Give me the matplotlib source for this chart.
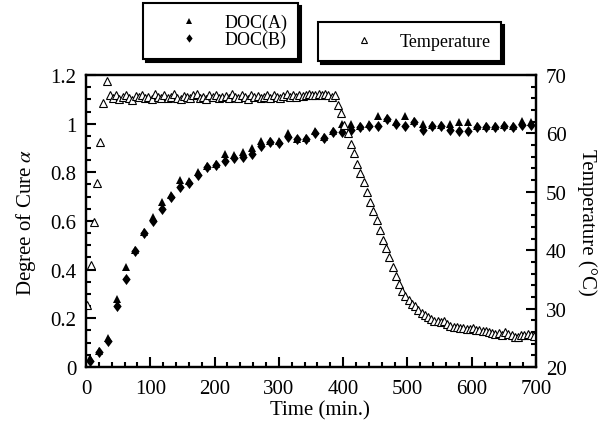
import numpy as np
import matplotlib
matplotlib.use('Agg')
import matplotlib.pyplot as plt
from matplotlib.ticker import MultipleLocator

plt.rcParams['font.family'] = ['Liberation Serif', 'DejaVu Serif']
plt.rcParams['mathtext.fontset'] = 'stix'

# degree of cure, sampled every ~14 min
doc_time = [6, 20, 34, 48, 62, 76, 90, 104, 118, 132, 146, 160, 174, 188, 202, 216, 230,
            244, 258, 272, 286, 300, 314, 328, 342, 356, 370, 384, 398, 412, 426, 440,
            454, 468, 482, 496, 510, 524, 538, 552, 566, 580, 594, 608, 622, 636, 650,
            664, 678, 692]
doc_a = [0.035, 0.065, 0.12, 0.28, 0.41, 0.48, 0.555, 0.615, 0.68, 0.705, 0.77, 0.765,
         0.80, 0.825, 0.835, 0.875, 0.87, 0.885, 0.90, 0.93, 0.93, 0.93, 0.96, 0.935,
         0.94, 0.97, 0.945, 0.97, 1.0, 1.0, 0.99, 1.0, 1.03, 1.025, 1.005, 1.03, 1.01,
         1.0, 0.995, 0.995, 1.0, 1.005, 1.005, 0.99, 0.99, 0.99, 0.995, 0.99, 1.01, 1.005]
doc_b = [0.025, 0.06, 0.105, 0.25, 0.36, 0.475, 0.55, 0.60, 0.65, 0.70, 0.74, 0.755,
         0.79, 0.82, 0.83, 0.845, 0.86, 0.865, 0.875, 0.91, 0.925, 0.92, 0.945, 0.935,
         0.935, 0.96, 0.94, 0.965, 0.965, 0.975, 0.985, 0.99, 0.99, 1.02, 1.0, 0.99,
         1.005, 0.975, 0.99, 0.99, 0.975, 0.97, 0.97, 0.985, 0.985, 0.985, 0.99, 0.985,
         0.995, 0.995]

# temperature, sampled every 5 min starting at t=2
temp = [30.6, 37.5, 44.8, 51.5, 58.5, 65.2, 68.9,
        66.5, 66.0, 66.6, 65.9, 66.3, 66.6, 66.1, 65.8, 66.4, 66.2,
        66.6, 66.0, 66.3, 65.9, 66.7, 66.2, 66.0, 66.5, 66.1, 66.3,
        66.8, 66.1, 65.9, 66.4, 66.2, 66.0, 66.6, 66.7, 66.1, 66.3,
        65.9, 66.5, 66.2, 66.6, 66.0, 66.3, 66.4, 66.1, 66.7, 66.2,
        66.0, 66.5, 66.3, 65.9, 66.6, 66.2, 66.4, 66.0, 66.3, 66.5,
        66.1, 66.6, 66.3, 66.0, 66.4, 66.7, 66.2, 66.5, 66.3, 66.6,
        66.4, 66.5, 66.7, 66.6, 66.5, 66.7, 66.6, 66.8, 66.5, 66.3,
        66.5, 64.8, 63.5, 61.5, 60.0, 58.2, 56.6, 54.8, 53.3, 51.6,
        49.9, 48.3, 46.7, 45.1, 43.4, 41.8, 40.3, 38.8, 37.2, 35.6,
        34.2, 33.0, 32.1, 31.4, 30.8, 30.4, 29.8, 29.3, 28.9, 28.6,
        28.2, 27.9, 27.8, 27.7, 27.8, 27.3, 27.0, 26.9, 26.8, 26.7,
        26.6, 26.5, 26.5, 26.6, 26.4, 26.3, 26.2, 26.1, 26.0, 25.9,
        25.6, 25.8, 25.5, 26.0, 25.7, 25.4, 25.2, 25.1, 25.5, 25.4,
        25.6, 25.5, 25.3]
temp_time = np.arange(2, 2 + 5 * len(temp), 5)

# slightly fat diamond like the original
diamond = [(0, 1), (0.75, 0), (0, -1), (-0.75, 0), (0, 1)]

fig = plt.figure(figsize=(6.07, 4.27), dpi=100)
ax = fig.add_axes([0.1417, 0.1382, 0.7413, 0.6838])
ax2 = ax.twinx()

ha, = ax.plot(doc_time, doc_a, '^', color='k', ms=5.4, mew=0, label='DOC(A)')
hb, = ax.plot(doc_time, doc_b, marker=diamond, ls='none', color='k', ms=8, mew=0,
              label='DOC(B)')
ht, = ax2.plot(temp_time, temp, '^', mfc='white', mec='k', ms=5.2, mew=0.8,
               label='Temperature')

ax.set_xlim(0, 700)
ax.set_ylim(0, 1.2)
ax2.set_ylim(20, 70)

ax.xaxis.set_major_locator(MultipleLocator(100))
ax.xaxis.set_minor_locator(MultipleLocator(20))
ax.yaxis.set_major_locator(MultipleLocator(0.2))
ax.yaxis.set_minor_locator(MultipleLocator(0.05))
ax2.yaxis.set_major_locator(MultipleLocator(10))
ax2.yaxis.set_minor_locator(MultipleLocator(2))
ax.set_yticks([0, 0.2, 0.4, 0.6, 0.8, 1.0, 1.2], ['0', '0.2', '0.4', '0.6', '0.8', '1', '1.2'])

for a in (ax, ax2):
    for s in a.spines.values():
        s.set_linewidth(1.6)
ax.tick_params(which='both', direction='in', top=False, right=False, width=1.5,
               labelsize=15)
ax.tick_params(which='major', length=7)
ax.tick_params(which='minor', length=3.5)
ax.tick_params(axis='x', pad=9)
ax.tick_params(axis='y', pad=7)
ax2.tick_params(which='both', direction='in', width=1.5, labelsize=15, pad=7)
ax2.tick_params(which='major', length=7)
ax2.tick_params(which='minor', length=3.5)

ax.set_xlabel('Time (min.)', fontsize=15)
ax.xaxis.set_label_coords(0.52, -0.115)
ax.set_ylabel(r'Degree of Cure $\alpha$', fontsize=15, labelpad=9)
ax2.set_ylabel('Temperature (°C)', fontsize=15, rotation=270, labelpad=22)

leg_kw = dict(fontsize=13, fancybox=False, edgecolor='k', framealpha=1, markerscale=0.75,
              borderpad=0.6, handlelength=3.9, handletextpad=0.0, labelspacing=0.0,
              borderaxespad=0, shadow={'color': 'k', 'alpha': 1})
leg1 = fig.legend(handles=[ha, hb], loc='upper left', bbox_to_anchor=(0.2356, 0.9906),
                  **leg_kw)
leg2 = fig.legend(handles=[ht], loc='upper left', bbox_to_anchor=(0.524, 0.946), **leg_kw)
for lg in (leg1, leg2):
    lg.get_frame().set_linewidth(1.5)

fig.savefig('out.png', dpi=100)
